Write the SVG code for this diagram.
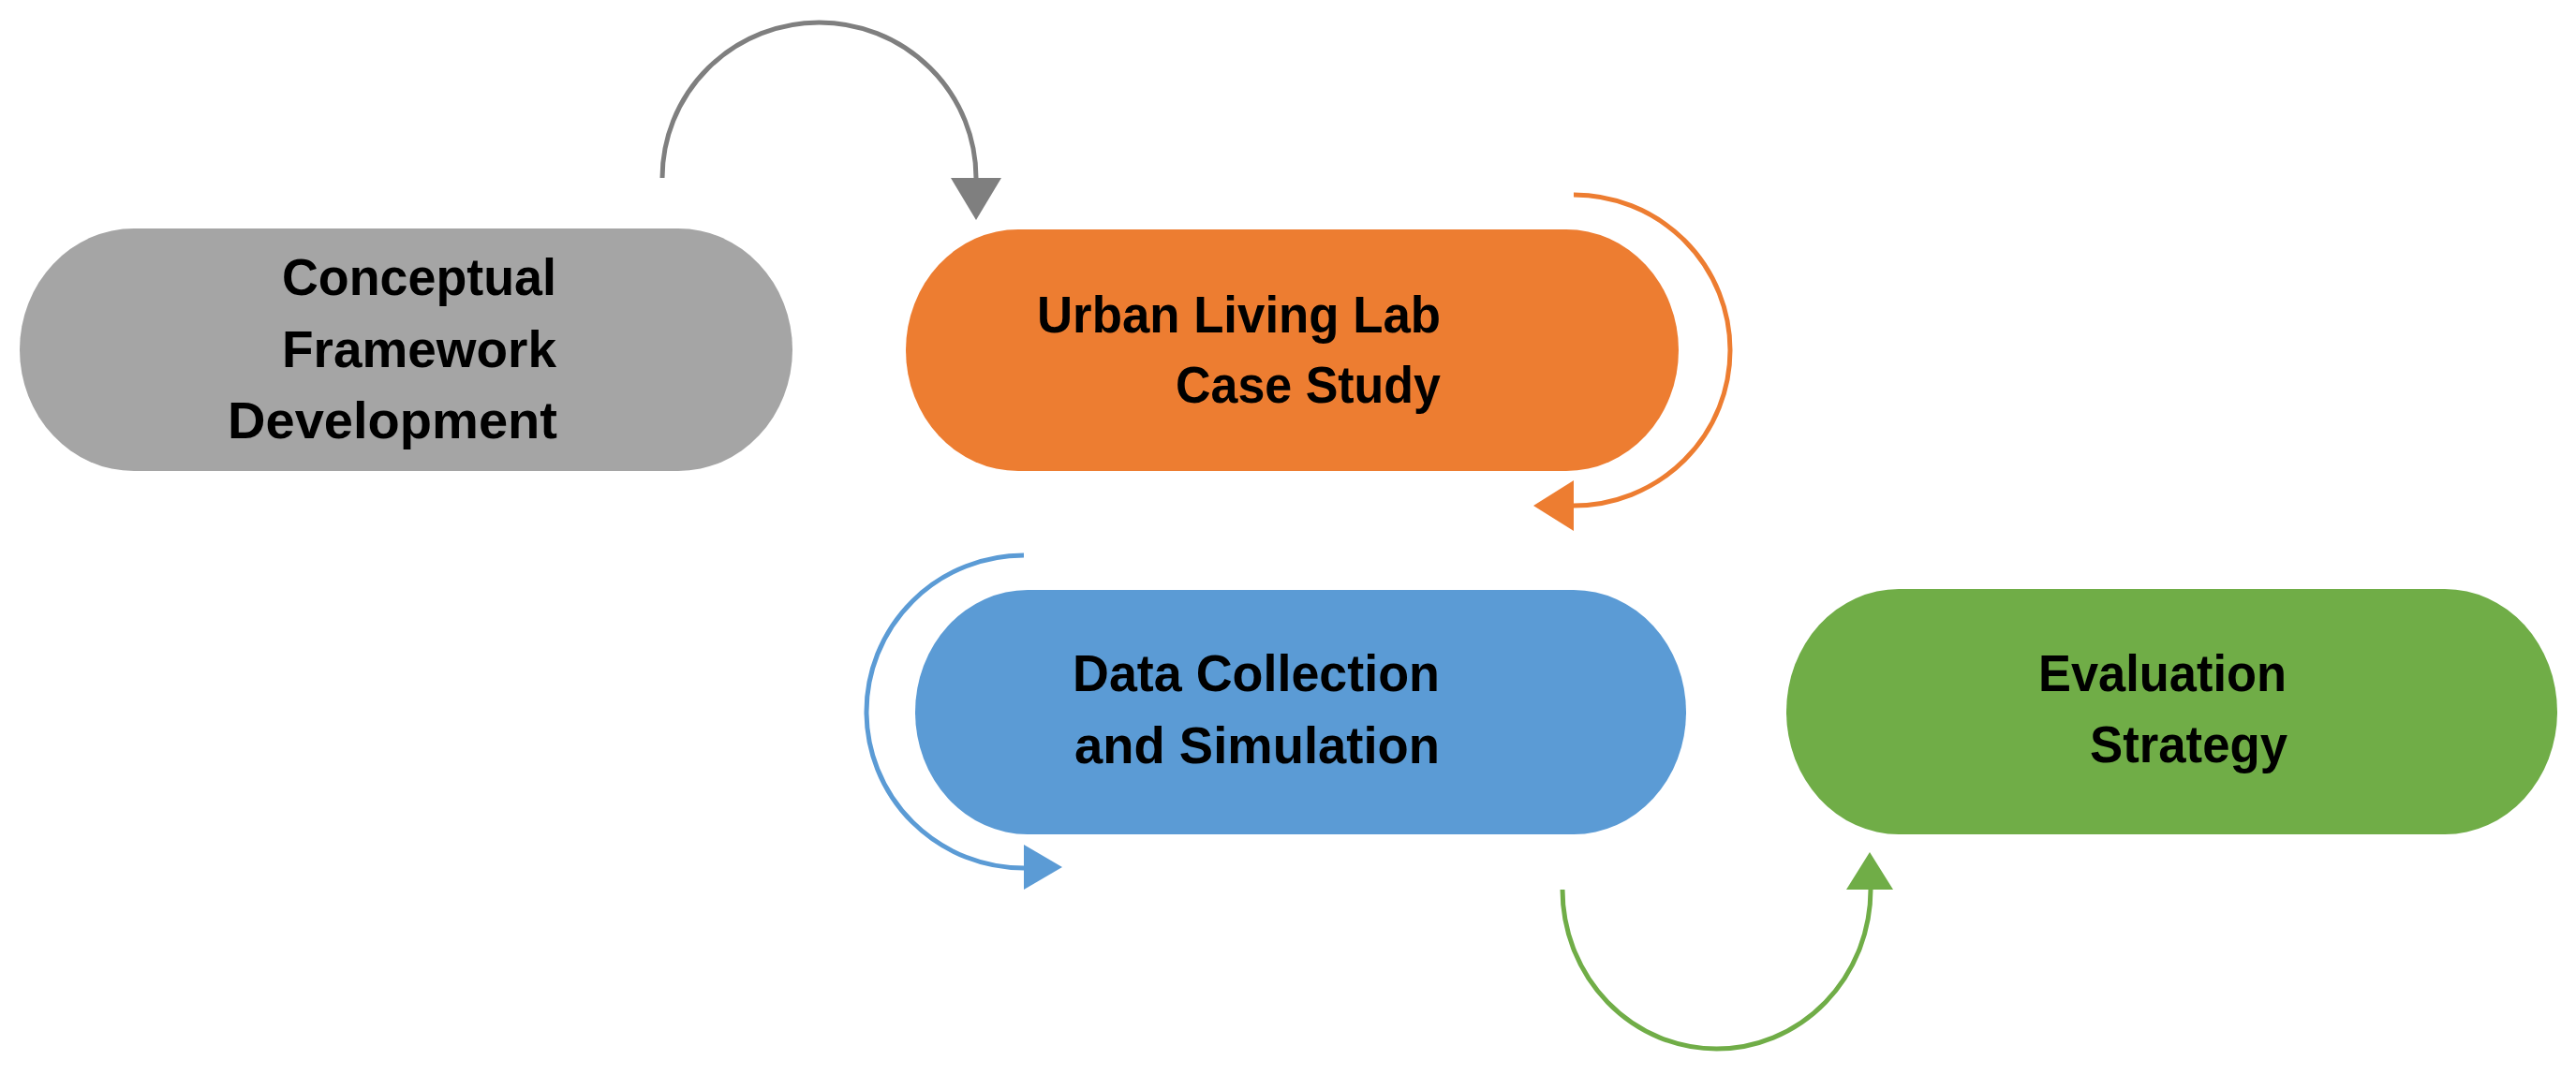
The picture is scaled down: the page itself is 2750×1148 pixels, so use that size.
<svg xmlns="http://www.w3.org/2000/svg" width="2750" height="1148" viewBox="0 0 2750 1148">
  <style>
    .lbl { font-family: "Liberation Sans", Arial, sans-serif; font-weight: bold; font-size: 56px; fill: #000; text-anchor: end; }
    .arc { fill: none; stroke-width: 5; }
  </style>
  <defs>
    <marker id="mGray" markerUnits="userSpaceOnUse" markerWidth="50" markerHeight="60" refX="0" refY="27" orient="auto" viewBox="0 0 50 54"><path d="M0,0 L45,27 L0,54 z" fill="#7F7F7F"/></marker>
    <marker id="mOrange" markerUnits="userSpaceOnUse" markerWidth="50" markerHeight="60" refX="0" refY="27" orient="auto" viewBox="0 0 50 54"><path d="M0,0 L43,27 L0,54 z" fill="#ED7D31"/></marker>
    <marker id="mBlue" markerUnits="userSpaceOnUse" markerWidth="50" markerHeight="60" refX="0" refY="27" orient="auto" viewBox="0 0 50 54"><path d="M0,2 L41,26 L0,50 z" fill="#5B9BD5"/></marker>
    <marker id="mGreen" markerUnits="userSpaceOnUse" markerWidth="50" markerHeight="60" refX="0" refY="27" orient="auto" viewBox="0 0 50 54"><path d="M0,1 L40,26 L0,51 z" fill="#70AD47"/></marker>
  </defs>
  <rect width="2750" height="1148" fill="#FFFFFF"/>

  <g id="node-conceptual">
    <rect x="21" y="244" width="825" height="259" rx="122" ry="129.5" fill="#A5A5A5"/>
    <text class="lbl" x="594" y="315" textLength="293" lengthAdjust="spacingAndGlyphs">Conceptual</text>
    <text class="lbl" x="594" y="392" textLength="293" lengthAdjust="spacingAndGlyphs">Framework</text>
    <text class="lbl" x="595" y="468" textLength="352" lengthAdjust="spacingAndGlyphs">Development</text>
  </g>

  <g id="node-urban">
    <rect x="967" y="245" width="825" height="258" rx="120" ry="129" fill="#ED7D31"/>
    <text class="lbl" x="1538" y="355" textLength="431" lengthAdjust="spacingAndGlyphs">Urban Living Lab</text>
    <text class="lbl" x="1538" y="430" textLength="283" lengthAdjust="spacingAndGlyphs">Case Study</text>
  </g>

  <g id="node-data">
    <rect x="977" y="630" width="823" height="261" rx="120" ry="130.5" fill="#5B9BD5"/>
    <text class="lbl" x="1537" y="738" textLength="392" lengthAdjust="spacingAndGlyphs">Data Collection</text>
    <text class="lbl" x="1537" y="815" textLength="390" lengthAdjust="spacingAndGlyphs">and Simulation</text>
  </g>

  <g id="node-evaluation">
    <rect x="1907" y="629" width="823" height="262" rx="120" ry="131" fill="#70AD47"/>
    <text class="lbl" x="2441" y="738" textLength="265" lengthAdjust="spacingAndGlyphs">Evaluation</text>
    <text class="lbl" x="2442" y="814" textLength="211" lengthAdjust="spacingAndGlyphs">Strategy</text>
  </g>

  <g id="connectors">
    <path class="arc" d="M707,190 A167.5,166 0 0 1 1042,190" stroke="#7F7F7F" marker-end="url(#mGray)"/>
    <path class="arc" d="M1680,208 A167,166 0 0 1 1680,540" stroke="#ED7D31" marker-end="url(#mOrange)"/>
    <path class="arc" d="M1093,593 A168,167 0 0 0 1093,927" stroke="#5B9BD5" marker-end="url(#mBlue)"/>
    <path class="arc" d="M1668,950 A164.5,170 0 0 0 1997,950" stroke="#70AD47" marker-end="url(#mGreen)"/>
  </g>
</svg>
